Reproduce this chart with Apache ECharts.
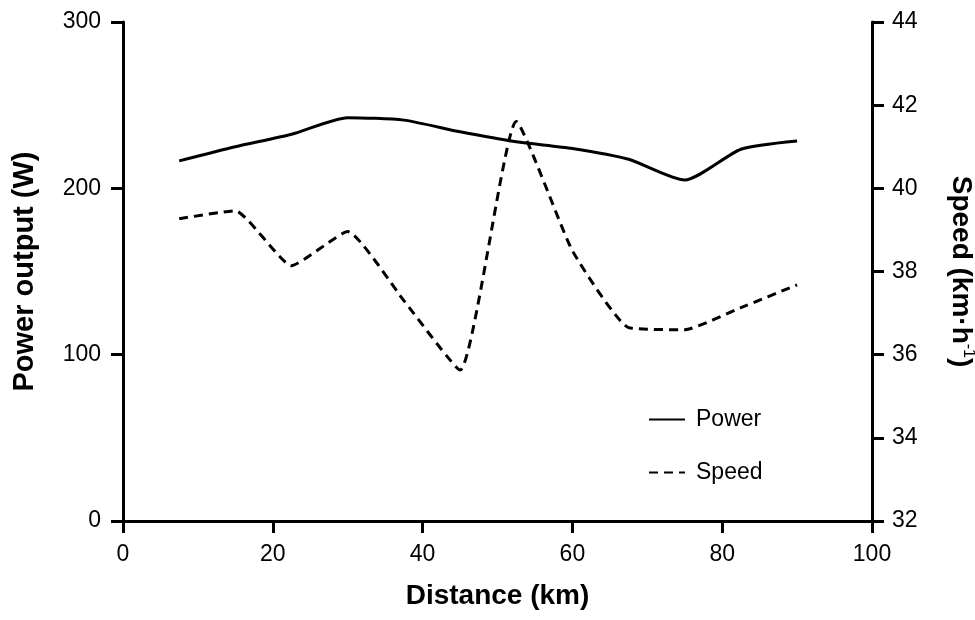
<!DOCTYPE html>
<html>
<head>
<meta charset="utf-8">
<script src="https://cdn.jsdelivr.net/npm/echarts@6/dist/echarts.min.js"></script>
<style>
html,body{margin:0;padding:0;background:#fff;}
#chart{width:975px;height:620px;}
</style>
</head>
<body>
<div id="chart"></div>
<script>
const distanceKm = [7.5, 15, 22.5, 30, 37.5, 45, 52.5, 60, 67.5, 75, 82.5, 90];
const powerW = [216.5, 225, 232.5, 242.5, 241, 234, 228, 224, 217.5, 205, 223.5, 228.5];
const speedKmh = [39.27, 39.46, 38.14, 38.96, 37.3, 35.63, 41.61, 38.5, 36.65, 36.6, 37.13, 37.68];
const xTicks = [0, 20, 40, 60, 80, 100];
const powerTicks = [0, 100, 200, 300];
const speedTicks = [32, 34, 36, 38, 40, 42, 44];

const FONT = 'Liberation Sans';
const chart = echarts.init(document.getElementById('chart'), null, {renderer: 'canvas'});

const axisCommon = {
  axisLine: {show: true, onZero: false, lineStyle: {color: '#000', width: 3}},
  axisTick: {show: true, inside: false, length: 12, lineStyle: {color: '#000', width: 3}},
  splitLine: {show: false}
};

const option = {
  backgroundColor: '#fff',
  animation: false,
  grid: {left: 123, top: 22, width: 749, height: 499, containLabel: false, outerBoundsMode: 'none'},
  legend: {
    data: ['Power', 'Speed'],
    orient: 'vertical',
    left: 643,
    top: 403,
    itemWidth: 36,
    itemHeight: 14,
    itemGap: 30,
    itemStyle: {opacity: 0},
    textStyle: {color: '#000', fontSize: 23, fontFamily: FONT, padding: [0, 0, 0, 6]}
  },
  xAxis: Object.assign({}, axisCommon, {
    type: 'value',
    min: xTicks[0], max: xTicks[xTicks.length - 1], interval: xTicks[1] - xTicks[0],
    name: 'Distance (km)',
    nameLocation: 'middle',
    nameGap: 61,
    nameTextStyle: {color: '#000', fontSize: 28, fontWeight: 'bold', fontFamily: FONT},
    axisLabel: {color: '#000', fontSize: 23, fontFamily: FONT, margin: 22}
  }),
  yAxis: [
    Object.assign({}, axisCommon, {
      type: 'value',
      position: 'left',
      min: powerTicks[0], max: powerTicks[powerTicks.length - 1], interval: powerTicks[1] - powerTicks[0],
      name: 'Power output (W)',
      nameLocation: 'middle',
      nameGap: 84,
      nameTextStyle: {color: '#000', fontSize: 29, fontWeight: 'bold', fontFamily: FONT},
      axisLabel: {color: '#000', fontSize: 23, fontFamily: FONT, margin: 22}
    }),
    Object.assign({}, axisCommon, {
      type: 'value',
      position: 'right',
      min: speedTicks[0], max: speedTicks[speedTicks.length - 1], interval: speedTicks[1] - speedTicks[0],
      name: '{a|Speed (km·h}{b|-1}{a|)}',
      nameLocation: 'middle',
      nameRotate: -90,
      nameGap: 74,
      nameTextStyle: {
        color: '#000', fontFamily: FONT,
        rich: {
          a: {fontSize: 28, fontWeight: 'bold', fontFamily: FONT, color: '#000', lineHeight: 30},
          b: {fontSize: 16, fontWeight: 'normal', fontFamily: FONT, color: '#000', verticalAlign: 'top', lineHeight: 30}
        }
      },
      axisLabel: {color: '#000', fontSize: 23, fontFamily: FONT, margin: 20}
    })
  ],
  series: [
    {
      name: 'Power',
      type: 'line',
      yAxisIndex: 0,
      symbol: 'none',
      smooth: 0.22,
      lineStyle: {color: '#000', width: 3},
      itemStyle: {color: '#000'},
      data: distanceKm.map((d, i) => [d, powerW[i]])
    },
    {
      name: 'Speed',
      type: 'line',
      yAxisIndex: 1,
      symbol: 'none',
      smooth: 0.15,
      lineStyle: {color: '#000', width: 3, type: [9, 6]},
      itemStyle: {color: '#000'},
      data: distanceKm.map((d, i) => [d, speedKmh[i]])
    }
  ]
};
chart.setOption(option);
</script>
</body>
</html>
